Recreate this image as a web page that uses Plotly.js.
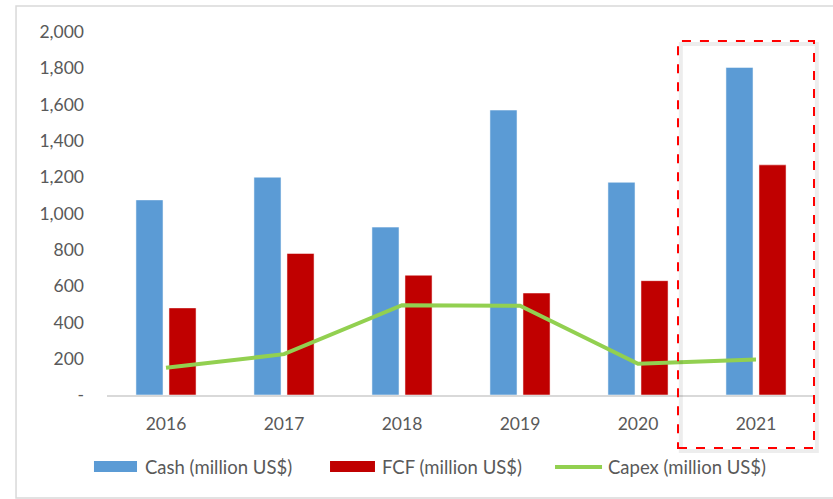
<!DOCTYPE html>
<html>
<head>
<meta charset="utf-8">
<script src="https://cdn.plot.ly/plotly-3.0.1.min.js"></script>
<style>html,body{margin:0;padding:0;background:#fff;}#chart{width:833px;height:499px;}</style>
</head>
<body>
<div id="chart"></div>
<script>
const years = ['2016', '2017', '2018', '2019', '2020', '2021'];
const cash = [1075, 1200, 925, 1570, 1172, 1805];
const fcf = [480, 780, 660, 562, 630, 1268];
const capex = [150, 225, 495, 492, 172, 196];
const seriesNames = ['Cash (million US$)', 'FCF (million US$)', 'Capex (million US$)'];
const seriesColors = ['#5B9BD5', '#C00000', '#92D050'];
const yTickVals = [0, 200, 400, 600, 800, 1000, 1200, 1400, 1600, 1800, 2000];
const yTickText = ['-', '200', '400', '600', '800', '1,000', '1,200', '1,400', '1,600', '1,800', '2,000'];

const fam = 'Lato, "Open Sans", sans-serif';
const font = {family: fam, size: 17.5, color: '#595959'};
const legFont = {family: fam, size: 18.5, color: '#595959'};

const traces = [
  {type: 'bar', name: seriesNames[0], x: years, y: cash,
   marker: {color: seriesColors[0], line: {color: 'rgba(255,255,255,0.5)', width: 1}}},
  {type: 'bar', name: seriesNames[1], x: years, y: fcf,
   marker: {color: seriesColors[1], line: {color: 'rgba(255,255,255,0.5)', width: 1}}},
  {type: 'scatter', mode: 'lines', name: seriesNames[2], x: years, y: capex,
   line: {color: seriesColors[2], width: 4}}
];

// custom legend (Excel-style wide swatches)
const legY = -0.1983;
const legendShapes = [
  {type: 'rect', xref: 'paper', yref: 'paper', x0: -0.0184, x1: 0.0424, y0: -0.2121, y1: -0.1818,
   fillcolor: seriesColors[0], line: {width: 0}},
  {type: 'rect', xref: 'paper', yref: 'paper', x0: 0.3150, x1: 0.3785, y0: -0.2121, y1: -0.1818,
   fillcolor: seriesColors[1], line: {width: 0}},
  {type: 'line', xref: 'paper', yref: 'paper', x0: 0.6328, x1: 0.6992, y0: legY, y1: legY,
   line: {color: seriesColors[2], width: 4}}
];
const legendX = [0.0508, 0.3856, 0.7048];
const legendAnn = seriesNames.map((n, i) => ({
  xref: 'paper', yref: 'paper', x: legendX[i], y: legY, xanchor: 'left', yanchor: 'middle',
  text: n, showarrow: false, font: legFont
}));

const layout = {
  width: 833, height: 499,
  margin: {l: 107, r: 18, t: 32, b: 104},
  paper_bgcolor: '#fff', plot_bgcolor: '#fff',
  font: font,
  bargap: 0.44, bargroupgap: 0.18,
  showlegend: false,
  xaxis: {type: 'category', showgrid: false, showline: true, linecolor: '#D9D9D9', linewidth: 1.5,
          ticks: '', tickfont: font, zeroline: false, ticklabelstandoff: 12},
  yaxis: {range: [0, 2000], tickvals: yTickVals, ticktext: yTickText, showgrid: false,
          showline: false, zeroline: false, ticks: '', tickfont: font, ticklabelstandoff: 22},
  annotations: legendAnn,
  shapes: [
    {type: 'rect', xref: 'paper', yref: 'paper', x0: -0.1285, x1: 1.1, y0: -0.2837, y1: 1.0716,
     line: {color: '#D9D9D9', width: 1.5}, layer: 'below'},
    {type: 'rect', xref: 'paper', yref: 'paper', x0: 0.8105, x1: 1.0026, y0: -0.1543, y1: 0.9667,
     line: {color: 'rgba(0,0,0,0.07)', width: 4}},
    {type: 'rect', xref: 'paper', yref: 'paper', x0: 0.8065, x1: 0.9986, y0: -0.146, y1: 0.975,
     line: {color: '#FF0000', width: 2, dash: 'dash'}}
  ].concat(legendShapes)
};

Plotly.newPlot('chart', traces, layout, {displayModeBar: false, staticPlot: true});
</script>
</body>
</html>
